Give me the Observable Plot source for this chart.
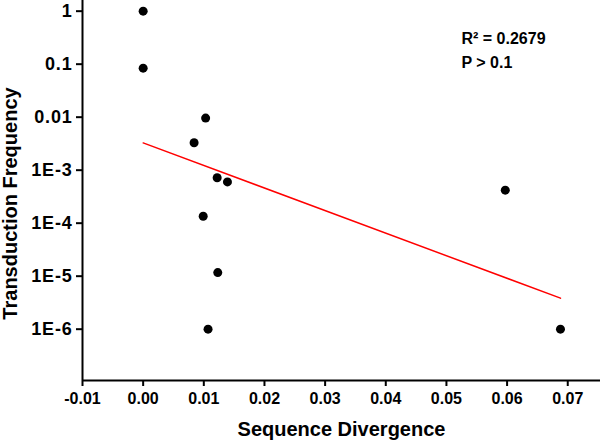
<!DOCTYPE html>
<html>
<head>
<meta charset="utf-8">
<script src="https://cdn.jsdelivr.net/npm/d3@7"></script>
<script src="https://cdn.jsdelivr.net/npm/@observablehq/plot@0.6"></script>
<style>
  html, body { margin: 0; padding: 0; background: #fff; }
  svg { display: block; }
</style>
</head>
<body>
<div id="chart"></div>
<script>
// Data points (sequence divergence, transduction frequency)
const divergence = [0.0000, 0.0000, 0.0103, 0.0084, 0.0122, 0.0139, 0.0099, 0.0123, 0.0107, 0.0597, 0.0688];
const frequency  = [1.0, 0.084, 0.0096, 0.0033, 7.2e-4, 6.0e-4, 1.35e-4, 1.17e-5, 1.0e-6, 4.2e-4, 1.0e-6];

// Regression line endpoints
const fitX = [0.0, 0.0688];
const fitY = [3.27e-3, 3.85e-6];

// Tick values and labels
const xTicks = [-0.01, 0.00, 0.01, 0.02, 0.03, 0.04, 0.05, 0.06, 0.07];
const yTicks = [1, 0.1, 0.01, 1e-3, 1e-4, 1e-5, 1e-6];
const yTickLabels = ["1", "0.1", "0.01", "1E-3", "1E-4", "1E-5", "1E-6"];

const xTitle = "Sequence Divergence";
const yTitle = "Transduction Frequency";
const statLines = ["R\u00B2 = 0.2679", "P > 0.1"];

const points = divergence.map((d, i) => ({x: d, y: frequency[i]}));
const fit = fitX.map((d, i) => ({x: d, y: fitY[i]}));

const xDomain = [-0.01, 0.0754];
const yDomain = [1.076e-7, 1.59];

const chart = Plot.plot({
  width: 600,
  height: 447,
  marginLeft: 82,
  marginRight: 0,
  marginTop: 0,
  marginBottom: 67,
  style: {fontFamily: "'Liberation Sans', Arial, sans-serif", fontWeight: "bold", color: "#000", background: "#fff"},
  x: {domain: xDomain},
  y: {type: "log", domain: yDomain},
  marks: [
    Plot.axisX({ticks: xTicks, tickFormat: d => d.toFixed(2), tickSize: 6, tickPadding: 6, strokeWidth: 2, fontSize: 16, label: null}),
    Plot.axisY({ticks: yTicks, tickFormat: d => yTickLabels[yTicks.indexOf(d)], tickSize: 6, tickPadding: 4, strokeWidth: 2, fontSize: 18, label: null, className: "yax"}),
    Plot.ruleX([xDomain[0]], {stroke: "#000", strokeWidth: 2}),
    Plot.ruleY([yDomain[0]], {stroke: "#000", strokeWidth: 2}),
    Plot.line(fit, {x: "x", y: "y", stroke: "#ff0000", strokeWidth: 1.5}),
    Plot.dot(points, {x: "x", y: "y", r: 4.5, fill: "#000", stroke: "none"}),
    Plot.text([yTitle], {frameAnchor: "left", textAnchor: "middle", dx: -72, dy: 13, rotate: -90, fontSize: 20, fill: "#000", text: d => d}),
    Plot.text([xTitle], {frameAnchor: "bottom", dy: 55, fontSize: 20, fill: "#000", text: d => d}),
    Plot.text([statLines[0]], {frameAnchor: "top-left", dx: 379, dy: 32, textAnchor: "start", fontSize: 16, fill: "#000", text: d => d}),
    Plot.text([statLines[1]], {frameAnchor: "top-left", dx: 379, dy: 56, textAnchor: "start", fontSize: 16, fill: "#000", text: d => d})
  ]
});
chart.querySelectorAll("g[aria-label='y-axis tick label'] text").forEach(t => t.setAttribute("letter-spacing", "0.8"));
document.getElementById("chart").appendChild(chart);
</script>
</body>
</html>
